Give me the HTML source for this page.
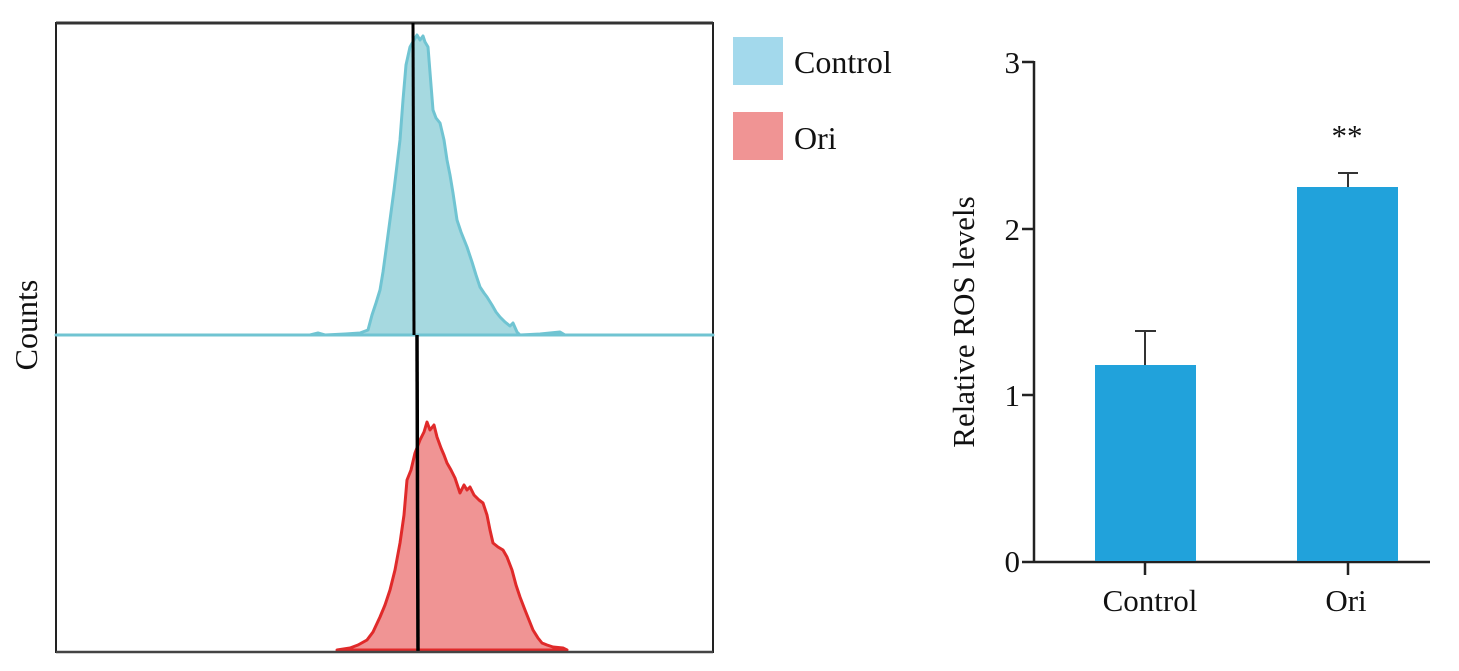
<!DOCTYPE html>
<html><head><meta charset="utf-8"><style>
html,body{margin:0;padding:0;background:#fff;}
svg{display:block;font-family:"Liberation Serif",serif;}
</style></head><body>
<svg width="1459" height="671" viewBox="0 0 1459 671" xmlns="http://www.w3.org/2000/svg">
<rect x="56" y="23" width="657" height="629" fill="#fff" stroke="#222" stroke-width="2"/>
<line x1="56" y1="23" x2="713" y2="23" stroke="#333" stroke-width="3"/>
<polygon fill="#a6d9e0" stroke="#70c4d2" stroke-width="3" stroke-linejoin="round"
points="56,335 310,335 318,333 325,335 345,334 360,333 368,330 372,315 376,303 380,290 383,272 386,250 390,220 394,190 397,165 400,140 403,100 406,65 410,47 414,40 417,35 420,40 423,36 425,42 428,47 431,85 433,110 436,118 440,123 444,140 447,160 450,175 453,193 457,220 461,232 467,247 472,262 476,275 480,287 484,293 487,297 492,305 496,312 500,317 505,322 510,326 513,323 517,332 520,335 540,334 560,332 565,335 713,335"/>
<polygon fill="#f09494" stroke="#e02a2a" stroke-width="3" stroke-linejoin="round"
points="337,650 350,648 358,645 367,640 373,632 380,617 385,605 390,590 395,570 400,543 404,515 407,480 411,470 415,453 420,440 424,432 427,422 430,430 434,425 437,437 441,448 444,455 447,463 451,470 455,478 460,493 464,485 467,490 470,487 474,495 479,500 483,503 487,515 490,530 493,543 498,547 503,550 507,557 512,570 516,585 520,597 525,610 529,620 533,630 538,638 542,643 547,645 553,647 563,648 567,650"/>
<line x1="413" y1="23" x2="414" y2="335" stroke="#000" stroke-width="3"/>
<line x1="417" y1="335" x2="418" y2="652" stroke="#000" stroke-width="3.5"/>
<line x1="56" y1="652" x2="713" y2="652" stroke="#444" stroke-width="2.5"/>
<text transform="translate(37,325) rotate(-90)" text-anchor="middle" font-size="32" fill="#111">Counts</text>
<rect x="733" y="37" width="50" height="48" fill="#a3d9ec"/>
<rect x="733" y="112" width="50" height="48" fill="#f09494"/>
<text x="794" y="73" font-size="32" fill="#111">Control</text>
<text x="794" y="149" font-size="32" fill="#111">Ori</text>
<g stroke="#222" stroke-width="2.5" fill="none">
<line x1="1034" y1="61" x2="1034" y2="562"/>
<line x1="1022" y1="562" x2="1430" y2="562"/>
<line x1="1022" y1="62" x2="1034" y2="62"/>
<line x1="1022" y1="229" x2="1034" y2="229"/>
<line x1="1022" y1="395" x2="1034" y2="395"/>
<line x1="1145" y1="562" x2="1145" y2="575"/>
<line x1="1348" y1="562" x2="1348" y2="575"/>
</g>
<g stroke="#333" stroke-width="2" fill="none">
<line x1="1145" y1="365" x2="1145" y2="331"/><line x1="1135" y1="331" x2="1156" y2="331"/>
<line x1="1348" y1="187" x2="1348" y2="173"/><line x1="1338" y1="173" x2="1358" y2="173"/>
</g>
<rect x="1095" y="365" width="101" height="196" fill="#21a2db"/>
<rect x="1297" y="187" width="101" height="374" fill="#21a2db"/>
<g font-size="31" fill="#111" text-anchor="end">
<text x="1020" y="73">3</text><text x="1020" y="240">2</text><text x="1020" y="406">1</text><text x="1020" y="572">0</text>
</g>
<g font-size="31" fill="#111" text-anchor="middle">
<text x="1150" y="611">Control</text><text x="1346" y="611">Ori</text>
<text x="1347" y="146">**</text>
<text transform="translate(974,322) rotate(-90)">Relative ROS levels</text>
</g>
</svg>
</body></html>
